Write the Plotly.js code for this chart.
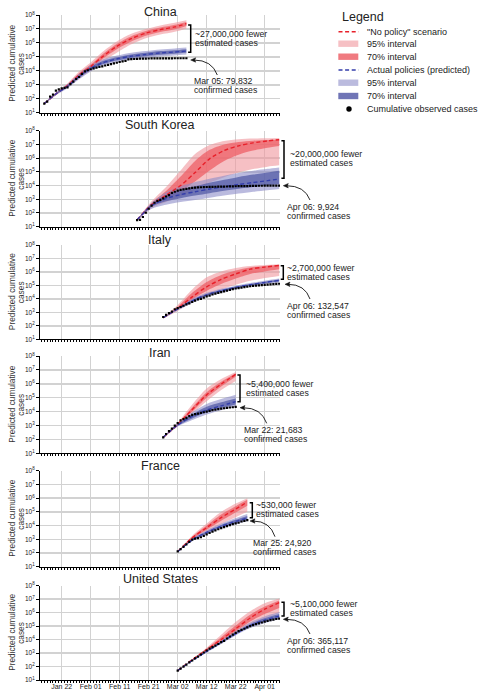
<!DOCTYPE html>
<html><head><meta charset="utf-8">
<script src="https://cdn.plot.ly/plotly-3.0.1.min.js"></script>
<style>html,body{margin:0;padding:0;background:#fff}#chart{width:479px;height:691px}</style>
</head><body><div id="chart"></div>
<script>
// ---------------- DATA ----------------
const countryNames = ['China','South Korea','Italy','Iran','France','United States'];
const tickDates = ['2020-01-22','2020-02-01','2020-02-11','2020-02-21','2020-03-02','2020-03-12','2020-03-22','2020-04-01'];
const tickLabels = ['Jan 22','Feb 01','Feb 11','Feb 21','Mar 02','Mar 12','Mar 22','Apr 01'];
const yTickVals = [1e1,1e2,1e3,1e4,1e5,1e6,1e7,1e8];
const yTickText = ['10<sup>1</sup>','10<sup>2</sup>','10<sup>3</sup>','10<sup>4</sup>','10<sup>5</sup>','10<sup>6</sup>','10<sup>7</sup>','10<sup>8</sup>'];
const fewerText = ['~27,000,000 fewer','~20,000,000 fewer','~2,700,000 fewer','~5,400,000 fewer','~530,000 fewer','~5,100,000 fewer'];
const confirmedText = ['Mar 05: 79,832','Apr 06: 9,924','Apr 06: 132,547','Mar 22: 21,683','Mar 25: 24,920','Apr 06: 365,117'];

// China
const chinaDates = ['2020-01-16','2020-01-20','2020-01-24','2020-01-28','2020-02-01','2020-02-05','2020-02-10','2020-02-15','2020-02-20','2020-02-25','2020-03-01','2020-03-05'];
const chinaNoPolicyMed  = [45,220,890,5000,20000,1.0e5,5.6e5,2.0e6,5.0e6,8.9e6,1.4e7,2.4e7];
const chinaNoPolicyHi95 = [50,280,1260,8900,40000,2.2e5,1.26e6,4.5e6,1.0e7,1.8e7,2.8e7,4.2e7];
const chinaNoPolicyLo95 = [40,180,630,2800,10000,45000,2.0e5,7.9e5,2.2e6,4.0e6,6.3e6,1.1e7];
const chinaNoPolicyHi70 = [48,250,1070,6800,28000,1.5e5,8.5e5,3.0e6,7.1e6,1.26e7,2.0e7,3.2e7];
const chinaNoPolicyLo70 = [42,200,740,3700,14000,68000,3.5e5,1.26e6,3.3e6,6.0e6,9.5e6,1.66e7];
const chinaPolicyMed  = [45,220,790,4000,15000,37000,71000,1.12e5,1.48e5,1.9e5,2.24e5,2.6e5];
const chinaPolicyHi95 = [50,280,1120,6300,25000,63000,1.23e5,2.0e5,2.6e5,3.4e5,4.0e5,4.7e5];
const chinaPolicyLo95 = [40,180,560,2500,9100,22000,41000,63000,83000,1.07e5,1.26e5,1.48e5];
const chinaPolicyHi70 = [48,250,950,5000,19500,49000,93000,1.5e5,2.0e5,2.6e5,3.0e5,3.55e5];
const chinaPolicyLo70 = [42,200,660,3200,11700,28000,54000,83000,1.1e5,1.4e5,1.66e5,1.95e5];
const chinaObsStart = '2020-01-16';
const chinaObs = [45,62,140,200,380,470,550,600,650,1100,1700,2600,3600,6000,9000,11000,13000,15000,17000,19000,21000,24000,27000,30000,34000,38000,43000,47000,52000,66000,68500,70500,72400,74000,74600,75400,76200,76900,77100,77600,78000,78400,78700,79000,79300,79500,79600,79700,79780,79832];

// South Korea
const skDates = ['2020-02-17','2020-02-22','2020-02-27','2020-03-03','2020-03-08','2020-03-13','2020-03-18','2020-03-23','2020-03-28','2020-04-02','2020-04-06'];
const skNoPolicyMed  = [32,400,2000,1.0e4,8.9e4,8.9e5,3.55e6,7.9e6,1.3e7,1.8e7,2.2e7];
const skNoPolicyHi95 = [33,710,7900,1.26e5,2.0e6,8.9e6,1.8e7,2.4e7,2.7e7,2.8e7,2.9e7];
const skNoPolicyLo95 = [28,220,630,1600,5000,16000,40000,89000,1.6e5,2.4e5,3.0e5];
const skNoPolicyHi70 = [32,520,4000,4.5e4,6.3e5,4.0e6,1.0e7,1.5e7,1.86e7,2.1e7,2.3e7];
const skNoPolicyLo70 = [30,300,1120,4000,2.0e4,1.26e5,6.3e5,1.8e6,3.55e6,5.6e6,7.6e6];
const skPolicyMed  = [32,350,1120,2200,3550,5600,8300,1.2e4,1.66e4,2.3e4,3.0e4];
const skPolicyHi95 = [33,560,3200,8900,1.8e4,3.2e4,5.2e4,8.3e4,1.2e5,1.66e5,2.1e5];
const skPolicyLo95 = [28,200,400,630,890,1300,1900,2600,3550,4600,5600];
const skPolicyHi70 = [32,450,2000,5000,8900,1.6e4,2.6e4,4.2e4,6.3e4,8.9e4,1.2e5];
const skPolicyLo70 = [30,280,710,1200,1860,2800,4200,5900,7900,1.05e4,1.3e4];
const skObsStart = '2020-02-17';
const skObs = [30,31,51,104,204,346,556,763,893,1146,1595,2022,2931,3526,4212,4812,5328,5766,6284,6767,7134,7382,7513,7755,7869,7979,8086,8162,8236,8320,8413,8565,8652,8799,8897,8961,9037,9137,9241,9332,9478,9583,9661,9700,9750,9790,9830,9860,9890,9924];

// Italy
const italyDates = ['2020-02-26','2020-03-02','2020-03-07','2020-03-12','2020-03-17','2020-03-22','2020-03-27','2020-04-01','2020-04-06'];
const italyNoPolicyMed  = [400,2000,1.4e4,7.9e4,2.8e5,7.1e5,1.6e6,2.3e6,3.0e6];
const italyNoPolicyHi95 = [420,3550,5.0e4,4.0e5,1.1e6,2.0e6,2.8e6,3.3e6,3.7e6];
const italyNoPolicyLo95 = [350,1260,5600,1.8e4,5.0e4,1.1e5,2.2e5,3.55e5,5.0e5];
const italyNoPolicyHi70 = [400,2600,2.8e4,1.8e5,6.0e5,1.26e6,2.1e6,2.75e6,3.3e6];
const italyNoPolicyLo70 = [370,1600,8900,4.0e4,1.26e5,3.2e5,7.1e5,1.1e6,1.6e6];
const italyPolicyMed  = [400,1800,7100,2.0e4,4.0e4,7.1e4,1.12e5,1.66e5,2.35e5];
const italyPolicyHi95 = [420,2200,1.0e4,2.8e4,5.6e4,9.5e4,1.5e5,2.24e5,3.2e5];
const italyPolicyLo95 = [350,1400,5000,1.4e4,2.8e4,5.2e4,8.3e4,1.2e5,1.66e5];
const italyPolicyHi70 = [400,2000,8300,2.3e4,4.7e4,8.3e4,1.3e5,1.9e5,2.7e5];
const italyPolicyLo70 = [370,1600,6000,1.7e4,3.4e4,6.0e4,9.8e4,1.4e5,2.0e5];
const italyObsStart = '2020-02-26';
const italyObs = [453,655,888,1128,1694,2036,2502,3089,3858,4636,5883,7375,9172,10149,12462,15113,17660,21157,24747,27980,31506,35713,41035,47021,53578,59138,63927,69176,74386,80589,86498,92472,97689,101739,105792,110574,115242,119827,124632,128948,132547];

// Iran
const iranDates = ['2020-02-26','2020-03-02','2020-03-07','2020-03-12','2020-03-17','2020-03-22'];
const iranNoPolicyMed  = [140,1200,1.4e4,1.6e5,9.5e5,4.8e6];
const iranNoPolicyHi95 = [160,1600,3.2e4,4.5e5,2.2e6,7.1e6];
const iranNoPolicyLo95 = [126,900,7100,5.6e4,3.55e5,1.6e6];
const iranNoPolicyHi70 = [150,1400,2.0e4,2.5e5,1.4e6,5.8e6];
const iranNoPolicyLo70 = [130,1050,1.0e4,1.0e5,6.3e5,3.2e6];
const iranPolicyMed  = [140,1100,4500,1.3e4,2.6e4,5.2e4];
const iranPolicyHi95 = [160,1400,8900,3.55e4,7.9e4,1.6e5];
const iranPolicyLo95 = [126,850,2500,6300,1.26e4,2.2e4];
const iranPolicyHi70 = [150,1250,6300,2.24e4,4.7e4,8.9e4];
const iranPolicyLo70 = [130,950,3200,8900,1.8e4,3.3e4];
const iranObsStart = '2020-02-26';
const iranObs = [139,245,388,593,978,1501,2336,2922,3513,4747,5823,6566,7161,8042,9000,10075,11364,12729,13938,14991,16169,17361,18407,19644,20610,21683];

// France
const franceDates = ['2020-03-02','2020-03-07','2020-03-12','2020-03-17','2020-03-22','2020-03-26'];
const franceNoPolicyMed  = [126,1260,7100,3.8e4,1.6e5,5.2e5];
const franceNoPolicyHi95 = [130,1800,1.4e4,1.0e5,4.0e5,1.0e6];
const franceNoPolicyLo95 = [120,890,3550,1.26e4,4.0e4,1.0e5];
const franceNoPolicyHi70 = [128,1500,1.0e4,6.3e4,2.6e5,7.6e5];
const franceNoPolicyLo70 = [123,1050,5000,2.24e4,8.9e4,2.8e5];
const francePolicyMed  = [126,890,3200,8900,2.0e4,3.55e4];
const francePolicyHi95 = [130,1120,4500,1.4e4,3.55e4,7.1e4];
const francePolicyLo95 = [120,710,2200,6000,1.26e4,2.1e4];
const francePolicyHi70 = [128,1000,3700,1.1e4,2.6e4,5.0e4];
const francePolicyLo70 = [123,790,2600,7200,1.5e4,2.6e4];
const franceObsStart = '2020-03-02';
const franceObs = [130,190,280,420,650,950,1130,1210,1400,1780,2280,2870,3660,4470,5400,6600,7700,9100,10900,12600,14300,16000,19800,22300,24920];

// United States
const usDates = ['2020-03-02','2020-03-07','2020-03-12','2020-03-17','2020-03-22','2020-03-27','2020-04-01','2020-04-06'];
const usNoPolicyMed  = [50,320,1780,1.0e4,6.3e4,4.0e5,1.8e6,5.5e6];
const usNoPolicyHi95 = [52,350,2500,2.24e4,2.0e5,1.26e6,5.0e6,1.1e7];
const usNoPolicyLo95 = [48,280,1400,6300,2.8e4,1.1e5,3.55e5,8.9e5];
const usNoPolicyHi70 = [51,330,2100,1.5e4,1.1e5,7.1e5,2.8e6,7.9e6];
const usNoPolicyLo70 = [49,300,1600,7900,4.2e4,2.24e5,7.9e5,2.24e6];
const usPolicyMed  = [50,280,1320,6300,2.8e4,1.1e5,2.8e5,5.5e5];
const usPolicyHi95 = [52,320,1600,8300,4.2e4,1.86e5,5.2e5,1.1e6];
const usPolicyLo95 = [48,250,1100,4800,2.0e4,7.1e4,1.66e5,3.2e5];
const usPolicyHi70 = [51,300,1450,7200,3.4e4,1.4e5,3.8e5,7.9e5];
const usPolicyLo70 = [49,270,1200,5500,2.3e4,8.9e4,2.1e5,4.0e5];
const usObsStart = '2020-03-02';
const usObs = [50,70,100,140,200,280,400,550,780,1100,1550,2100,2800,3600,4700,6400,8000,12000,17000,23000,31000,42000,52000,64000,82000,100000,120000,139000,160000,186000,212000,242000,274000,306000,336000,365117];

// ---------------- BUILD ----------------
const panels = [
  {dates:chinaDates, npMed:chinaNoPolicyMed, npHi95:chinaNoPolicyHi95, npLo95:chinaNoPolicyLo95, npHi70:chinaNoPolicyHi70, npLo70:chinaNoPolicyLo70, apMed:chinaPolicyMed, apHi95:chinaPolicyHi95, apLo95:chinaPolicyLo95, apHi70:chinaPolicyHi70, apLo70:chinaPolicyLo70, obsStart:chinaObsStart, obs:chinaObs},
  {dates:skDates, npMed:skNoPolicyMed, npHi95:skNoPolicyHi95, npLo95:skNoPolicyLo95, npHi70:skNoPolicyHi70, npLo70:skNoPolicyLo70, apMed:skPolicyMed, apHi95:skPolicyHi95, apLo95:skPolicyLo95, apHi70:skPolicyHi70, apLo70:skPolicyLo70, obsStart:skObsStart, obs:skObs},
  {dates:italyDates, npMed:italyNoPolicyMed, npHi95:italyNoPolicyHi95, npLo95:italyNoPolicyLo95, npHi70:italyNoPolicyHi70, npLo70:italyNoPolicyLo70, apMed:italyPolicyMed, apHi95:italyPolicyHi95, apLo95:italyPolicyLo95, apHi70:italyPolicyHi70, apLo70:italyPolicyLo70, obsStart:italyObsStart, obs:italyObs},
  {dates:iranDates, npMed:iranNoPolicyMed, npHi95:iranNoPolicyHi95, npLo95:iranNoPolicyLo95, npHi70:iranNoPolicyHi70, npLo70:iranNoPolicyLo70, apMed:iranPolicyMed, apHi95:iranPolicyHi95, apLo95:iranPolicyLo95, apHi70:iranPolicyHi70, apLo70:iranPolicyLo70, obsStart:iranObsStart, obs:iranObs},
  {dates:franceDates, npMed:franceNoPolicyMed, npHi95:franceNoPolicyHi95, npLo95:franceNoPolicyLo95, npHi70:franceNoPolicyHi70, npLo70:franceNoPolicyLo70, apMed:francePolicyMed, apHi95:francePolicyHi95, apLo95:francePolicyLo95, apHi70:francePolicyHi70, apLo70:francePolicyLo70, obsStart:franceObsStart, obs:franceObs},
  {dates:usDates, npMed:usNoPolicyMed, npHi95:usNoPolicyHi95, npLo95:usNoPolicyLo95, npHi70:usNoPolicyHi70, npLo70:usNoPolicyLo70, apMed:usPolicyMed, apHi95:usPolicyHi95, apLo95:usPolicyLo95, apHi70:usPolicyHi70, apLo70:usPolicyLo70, obsStart:usObsStart, obs:usObs}
];

// layout positions in pixels (styling, not data)
const panelTopPx = [15,130.7,245,356,470.7,585.7];
const panelBottomPx = [112.7,226.7,339.3,453.3,566.7,680];
const titleYPx = [11.7,125,240,353.3,466,579];
const bracketPx = [[190.7,25,52.3],[284,140.7,178.3],[283.3,265.7,279.3],[240,375,401.7],[252.3,502.7,517.7],[284,602.3,616]];
const fewerPx = [[193.3,34,43.3],[288.3,154.3,162.7],[285,268.3,277.3],[244.3,384,392.7],[254,505,514.3],[288.3,604.3,613.3]];
const confPx = [[192.3,80.7,90],[285,207.3,216],[285,306,315],[241.7,430,439],[250.7,543.3,552.3],[285,641,650]];
const arrowPx = [[217.3,75,190.7,60],[310,200,283.3,185.7],[310,299,285,284.3],[266.7,423.3,240,407.7],[275,536.7,250,521],[310,634,283.3,619.3]];

const FONT = '"Liberation Sans", Arial, Helvetica, sans-serif';
const RED95 = 'rgba(240,150,157,0.6)';
const RED70 = 'rgba(238,89,95,0.7)';
const BLUE95 = 'rgba(140,140,200,0.6)';
const BLUE70 = 'rgba(77,85,162,0.7)';
const REDLINE = 'rgb(232,32,42)';
const BLUELINE = 'rgb(52,62,170)';
const DASH = '4px,2.6px';

const L = 40, R = 280, T = 15, B = 680, W = 479, H = 691;
const X = p => (p - L) / (R - L);
const Y = p => (B - p) / (B - T);

function addDays(start, n) {
  const d = new Date(start + 'T00:00:00Z');
  d.setUTCDate(d.getUTCDate() + n);
  return d.toISOString().slice(0, 10);
}

const data = [];
const shapes = [];
const annotations = [];
const layout = {
  width: W, height: H,
  margin: {l: L, r: W - R, t: T, b: H - B, pad: 0},
  paper_bgcolor: '#fff', plot_bgcolor: '#fff',
  showlegend: false,
  font: {family: FONT, color: '#222', size: 8},
  shapes: shapes, annotations: annotations
};

panels.forEach((p, i) => {
  const xa = i === 0 ? 'x' : 'x' + (i + 1);
  const ya = i === 0 ? 'y' : 'y' + (i + 1);
  const xk = i === 0 ? 'xaxis' : 'xaxis' + (i + 1);
  const yk = i === 0 ? 'yaxis' : 'yaxis' + (i + 1);
  const sp = {shape: 'spline', smoothing: 0.8, width: 0};
  function band(hi, lo, color) {
    data.push({x: p.dates, y: hi, xaxis: xa, yaxis: ya, mode: 'lines', line: Object.assign({}, sp), hoverinfo: 'skip'});
    data.push({x: p.dates, y: lo, xaxis: xa, yaxis: ya, mode: 'lines', line: Object.assign({}, sp), fill: 'tonexty', fillcolor: color, hoverinfo: 'skip'});
  }
  band(p.npHi95, p.npLo95, RED95);
  band(p.npHi70, p.npLo70, RED70);
  band(p.apHi95, p.apLo95, BLUE95);
  band(p.apHi70, p.apLo70, BLUE70);
  data.push({x: p.dates, y: p.npMed, xaxis: xa, yaxis: ya, mode: 'lines', line: {color: REDLINE, width: 1.4, dash: DASH, shape: 'spline', smoothing: 0.8}});
  data.push({x: p.dates, y: p.apMed, xaxis: xa, yaxis: ya, mode: 'lines', line: {color: BLUELINE, width: 1.4, dash: DASH, shape: 'spline', smoothing: 0.8}});
  data.push({x: p.obs.map((v, k) => addDays(p.obsStart, k)), y: p.obs, xaxis: xa, yaxis: ya, mode: 'markers', marker: {symbol: 'square', size: 2.2, color: '#000', line: {width: 0}}});

  layout[xk] = {
    domain: [0, 1], anchor: ya, type: 'date',
    range: ['2020-01-14 12:30', '2020-04-06 06:40'],
    tickmode: 'array', tickvals: tickDates, ticktext: tickLabels,
    showticklabels: i === 5, tickfont: {size: 7, color: '#222', family: FONT},
    ticks: '', 
    showgrid: true, gridcolor: '#d2d2d2', gridwidth: 1.5,
    showline: true, linecolor: '#000', linewidth: 1, zeroline: false,
    automargin: false, fixedrange: true,
    minor: {ticks: 'outside', ticklen: 2, tickwidth: 1, tickcolor: '#000', dtick: 86400000, tick0: '2020-01-22', showgrid: false}
  };
  layout[yk] = {
    domain: [Y(panelBottomPx[i]), Y(panelTopPx[i])], anchor: xa, type: 'log',
    range: [1, 8], tickmode: 'array', tickvals: yTickVals, ticktext: yTickText,
    tickfont: {size: 6.5, color: '#222', family: FONT},
    ticks: 'outside', ticklen: 3, tickwidth: 1, tickcolor: '#000',
    showgrid: true, gridcolor: '#d2d2d2', gridwidth: 1.5,
    showline: true, linecolor: '#000', linewidth: 1, zeroline: false,
    automargin: false, fixedrange: true
  };

  // panel title
  annotations.push({xref: 'paper', yref: 'paper', x: 0.5, y: Y(titleYPx[i]), xanchor: 'center', yanchor: 'middle', text: countryNames[i], showarrow: false, font: {size: 12.5, color: '#222', family: FONT, weight: 'normal'}});
  // y axis title (two lines)
  const mid = (panelTopPx[i] + panelBottomPx[i]) / 2;
  annotations.push({xref: 'paper', yref: 'paper', x: X(12), y: Y(mid), xanchor: 'center', yanchor: 'middle', textangle: -90, text: 'Predicted cumulative', showarrow: false, font: {size: 8.3, color: '#333', family: FONT}});
  annotations.push({xref: 'paper', yref: 'paper', x: X(21), y: Y(mid), xanchor: 'center', yanchor: 'middle', textangle: -90, text: 'cases', showarrow: false, font: {size: 8.3, color: '#333', family: FONT}});

  // bracket
  const b = bracketPx[i];
  shapes.push({type: 'path', xref: 'paper', yref: 'paper',
    path: `M ${X(b[0]-2.6)},${Y(b[1])} L ${X(b[0])},${Y(b[1])} L ${X(b[0])},${Y(b[2])} L ${X(b[0]-2.6)},${Y(b[2])}`,
    line: {color: '#000', width: 1.5}});
  const f = fewerPx[i];
  annotations.push({xref: 'paper', yref: 'paper', x: X(f[0]), y: Y(f[1]), xanchor: 'left', yanchor: 'middle', text: fewerText[i], showarrow: false, font: {size: 8.7, color: '#222', family: FONT}});
  annotations.push({xref: 'paper', yref: 'paper', x: X(f[0]), y: Y(f[2]), xanchor: 'left', yanchor: 'middle', text: 'estimated cases', showarrow: false, font: {size: 8.7, color: '#222', family: FONT}});
  const c = confPx[i];
  annotations.push({xref: 'paper', yref: 'paper', x: X(c[0]), y: Y(c[1]), xanchor: 'left', yanchor: 'middle', text: confirmedText[i], showarrow: false, font: {size: 8.7, color: '#222', family: FONT}});
  annotations.push({xref: 'paper', yref: 'paper', x: X(c[0]), y: Y(c[2]), xanchor: 'left', yanchor: 'middle', text: 'confirmed cases', showarrow: false, font: {size: 8.7, color: '#222', family: FONT}});
  // curved arrow with small filled head
  const a = arrowPx[i];
  const cx = a[0] - 0.2 * (a[0] - a[2]), cy = a[3];
  shapes.push({type: 'path', xref: 'paper', yref: 'paper',
    path: `M ${X(a[0])},${Y(a[1])} Q ${X(cx)},${Y(cy)} ${X(a[2]+3)},${Y(a[3])}`,
    line: {color: '#111', width: 0.9}});
  shapes.push({type: 'path', xref: 'paper', yref: 'paper',
    path: `M ${X(a[2])},${Y(a[3])} L ${X(a[2]+5)},${Y(a[3]-2.2)} L ${X(a[2]+4)},${Y(a[3])} L ${X(a[2]+5)},${Y(a[3]+2.2)} Z`,
    fillcolor: '#111', line: {color: '#111', width: 0.5}});
});

// manual legend (right margin)
annotations.push({xref: 'paper', yref: 'paper', x: X(340), y: Y(16.7), xanchor: 'left', yanchor: 'middle', text: 'Legend', showarrow: false, font: {size: 12.5, color: '#222', family: FONT, weight: 'normal'}});
const legendLabels = ['"No policy" scenario','95% interval','70% interval','Actual policies (predicted)','95% interval','70% interval','Cumulative observed cases'];
const legendY = [31.7,43.7,56.7,70,82.7,96,109];
const legendRectColors = [null,'rgb(246,192,196)','rgb(240,122,128)',null,'rgb(187,187,222)','rgb(112,117,182)',null];
legendLabels.forEach((t, k) => {
  annotations.push({xref: 'paper', yref: 'paper', x: X(365), y: Y(legendY[k]), xanchor: 'left', yanchor: 'middle', text: t, showarrow: false, font: {size: 9, color: '#222', family: FONT}});
  const yk = legendY[k];
  if (k === 0 || k === 3) {
    shapes.push({type: 'line', xref: 'paper', yref: 'paper', x0: X(338.5), x1: X(358.5), y0: Y(yk), y1: Y(yk), line: {color: k === 0 ? REDLINE : BLUELINE, width: 1.4, dash: DASH}});
  } else if (k === 6) {
    shapes.push({type: 'circle', xref: 'paper', yref: 'paper', x0: X(346.3), x1: X(351.7), y0: Y(yk - 2.7), y1: Y(yk + 2.7), fillcolor: '#000', line: {width: 0}});
  } else {
    shapes.push({type: 'rect', xref: 'paper', yref: 'paper', x0: X(338.3), x1: X(358.3), y0: Y(yk - 3.2), y1: Y(yk + 3.2), fillcolor: legendRectColors[k], line: {width: 0}});
  }
});

Plotly.newPlot('chart', data, layout, {staticPlot: true, displayModeBar: false});
</script></body></html>
